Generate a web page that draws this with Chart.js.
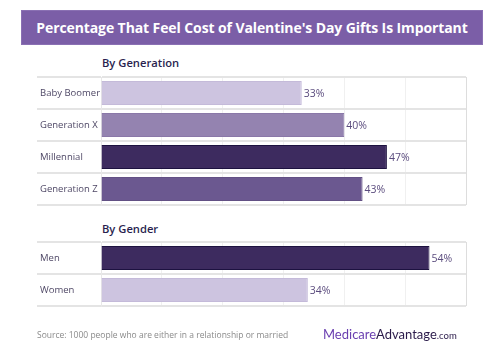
<!DOCTYPE html>
<html>
<head>
<meta charset="utf-8">
<script src="https://cdn.jsdelivr.net/npm/chart.js@4"></script>
<style>
  html, body { margin:0; padding:0; background:#fff; }
  body { width:500px; height:352px; position:relative; overflow:hidden; font-family:"Open Sans", sans-serif; }
  #title { position:absolute; left:21px; top:10px; width:460px; height:33px; background:#7b5ea7; border:1px solid #8a70b3;
    color:#fff; font-weight:700; font-size:14px; line-height:33px; text-align:center; white-space:nowrap; letter-spacing:-0.1px; }
  .sec { position:absolute; left:102px; font-weight:600; font-size:11.2px; color:#2a1f4f; }
  canvas { position:absolute; left:0; top:0; }
  #src { position:absolute; left:37px; top:329px; font-size:8.5px; color:#8a8a8a; white-space:nowrap; }
  #logo { position:absolute; left:323px; top:326px; font-family:"Lato", sans-serif; font-size:13px; white-space:nowrap; }
  #logo .m { color:#6a3fb0; }
  #logo .a { color:#2a1a4a; }
  #logo .c { color:#2a1a4a; font-size:9.5px; }
</style>
</head>
<body>
<div id="title">Percentage That Feel Cost of Valentine's Day Gifts Is Important</div>
<div class="sec" style="top:55px;">By Generation</div>
<div class="sec" style="top:221px;">By Gender</div>
<div style="position:absolute;left:0;top:0;width:500px;height:352px;"><canvas id="c1" width="500" height="352"></canvas></div>
<div style="position:absolute;left:0;top:0;width:500px;height:352px;"><canvas id="c2" width="500" height="352"></canvas></div>
<div id="src">Source: 1000 people who are either in a relationship or married</div>
<div id="logo"><span class="m">Medicare</span><span class="a">Advantage</span><span class="c">.com</span></div>
<script>
const genCategories = ["Baby Boomer", "Generation X", "Millennial", "Generation Z"];
const genValues = [33, 40, 47, 43];
const genderCategories = ["Men", "Women"];
const genderValues = [54, 34];
const axisMax = 60;
const axisStep = 10;

const genColors = ["#cdc4e0", "#9483b0", "#3d2b5f", "#6b5890"];
const genBorders = ["#c4bad9", "#8a78a8", "#1d1240", "#625084"];
const genderColors = ["#3d2b5f", "#cdc4e0"];
const genderBorders = ["#1d1240", "#c4bad9"];

const valueLabels = {
  id: 'valueLabels',
  afterDatasetsDraw(chart) {
    const ctx = chart.ctx;
    const meta = chart.getDatasetMeta(0);
    const data = chart.data.datasets[0].data;
    ctx.save();
    ctx.font = '10.5px "Open Sans", sans-serif';
    ctx.fillStyle = '#5b4c7e';
    ctx.textAlign = 'left';
    ctx.textBaseline = 'middle';
    meta.data.forEach((bar, i) => {
      ctx.fillText(data[i] + '%', bar.x + 2, bar.y + 1);
    });
    ctx.restore();
  }
};

function makeChart(id, cats, vals, colors, borders, top, bottom) {
  return new Chart(document.getElementById(id), {
    type: 'bar',
    data: {
      labels: cats,
      datasets: [{
        data: vals,
        backgroundColor: colors,
        borderColor: borders,
        borderWidth: 1,
        borderSkipped: 'start',
        barPercentage: 0.75,
        categoryPercentage: 1
      }]
    },
    options: {
      indexAxis: 'y',
      responsive: false,
      animation: false,
      events: [],
      layout: { padding: { left: 40, right: 34, top: top, bottom: 352 - bottom } },
      plugins: { legend: { display: false }, tooltip: { enabled: false } },
      scales: {
        x: {
          min: 0, max: axisMax,
          ticks: { display: false, stepSize: axisStep },
          grid: { color: (c) => (c.tick && c.tick.value === axisMax) ? '#dddddd' : '#f0f0f0', lineWidth: 1, drawTicks: false },
          border: { display: false },
          afterFit(s) { s.height = 0; }
        },
        y: {
          ticks: { crossAlign: 'far', padding: 0, color: '#4f4866', font: { family: '"Open Sans", sans-serif', size: 9.5 } },
          grid: { offset: true, color: '#e4e4e4', lineWidth: 2, tickLength: 64, tickColor: '#e4e4e4', tickWidth: 2 },
          border: { display: true, color: '#e8e8e8', width: 1 },
          afterFit(s) { s.width = 61; }
        }
      }
    },
    plugins: [valueLabels]
  });
}

makeChart('c1', genCategories, genValues, genColors, genBorders, 77, 205);
makeChart('c2', genderCategories, genderValues, genderColors, genderBorders, 242, 306);
</script>
</body>
</html>
